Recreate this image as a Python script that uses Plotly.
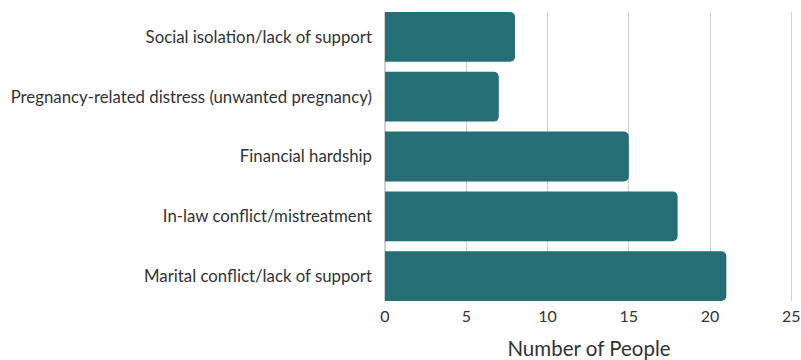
import plotly.graph_objects as go

categories = [
    "Marital conflict/lack of support",
    "In-law conflict/mistreatment",
    "Financial hardship",
    "Pregnancy-related distress (unwanted pregnancy)",
    "Social isolation/lack of support",
]
values = [21, 18, 15, 7, 8]
x_ticks = [0, 5, 10, 15, 20, 25]

fig = go.Figure(
    go.Bar(
        x=values,
        y=categories,
        orientation="h",
        marker=dict(color="#236f74", line=dict(width=0)),
        width=0.833,
    )
)

fig.update_layout(
    width=801,
    height=360,
    margin=dict(l=385, r=8, t=12, b=59),
    paper_bgcolor="white",
    plot_bgcolor="white",
    barcornerradius=5,
    font=dict(family="Lato", color="#333333", size=17),
    showlegend=False,
)
fig.update_xaxes(
    range=[0, 25.1],
    tickvals=x_ticks,
    showgrid=True,
    gridcolor="#d0d0d0",
    gridwidth=1,
    zeroline=True,
    zerolinecolor="#d0d0d0",
    automargin=False,
    tickfont=dict(size=16, color="#333333"),
    ticklabelstandoff=4,
    title=dict(text="Number of People", font=dict(size=20.5, color="#333333"), standoff=21),
    ticks="",
)
fig.update_yaxes(
    range=[-0.4167, 4.4167],
    showgrid=False,
    ticks="",
    automargin=False,
    ticklabelstandoff=12,
    tickfont=dict(size=16.8, color="#333333"),
)

fig.write_html("out.html")
